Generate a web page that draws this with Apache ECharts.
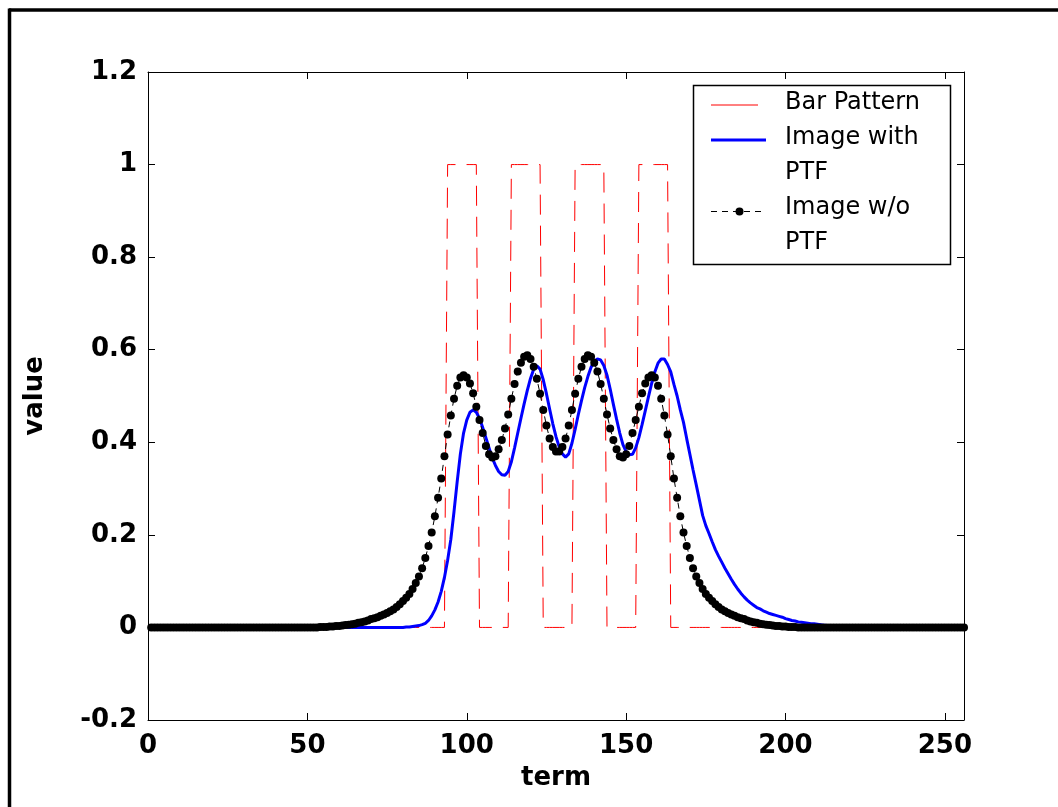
<!DOCTYPE html>
<html>
<head>
<meta charset="utf-8">
<script src="https://cdn.jsdelivr.net/npm/echarts@6/dist/echarts.min.js"></script>
<style>
html,body{margin:0;padding:0;background:#fff;}
#chart{width:1058px;height:807px;}
</style>
</head>
<body>
<div id="chart"></div>
<script>
// Series names
var seriesNames = ['Bar Pattern', 'Image with\nPTF', 'Image w/o\nPTF'];
var xTickValues = [0, 50, 100, 150, 200, 250];
var yTickLabels = ['-0.2', '0', '0.2', '0.4', '0.6', '0.8', '1', '1.2'];

// Bar pattern (term 1..256)
var barPattern = [
0,0,0,0,0,0,0,0,0,0,0,0,0,0,0,0,0,0,0,0,
0,0,0,0,0,0,0,0,0,0,0,0,0,0,0,0,0,0,0,0,
0,0,0,0,0,0,0,0,0,0,0,0,0,0,0,0,0,0,0,0,
0,0,0,0,0,0,0,0,0,0,0,0,0,0,0,0,0,0,0,0,
0,0,0,0,0,0,0,0,0,0,0,0,0,1,1,1,1,1,1,1,
1,1,1,0,0,0,0,0,0,0,0,0,0,1,1,1,1,1,1,1,
1,1,1,0,0,0,0,0,0,0,0,0,0,1,1,1,1,1,1,1,
1,1,1,0,0,0,0,0,0,0,0,0,0,1,1,1,1,1,1,1,
1,1,1,0,0,0,0,0,0,0,0,0,0,0,0,0,0,0,0,0,
0,0,0,0,0,0,0,0,0,0,0,0,0,0,0,0,0,0,0,0,
0,0,0,0,0,0,0,0,0,0,0,0,0,0,0,0,0,0,0,0,
0,0,0,0,0,0,0,0,0,0,0,0,0,0,0,0,0,0,0,0,
0,0,0,0,0,0,0,0,0,0,0,0,0,0,0,0
];

// Image with PTF (term 1..256)
var imageWithPTF = [
0,0,0,0,0,0,0,0,0,0,0,0,0,0,0,0,0,0,0,0,
0,0,0,0,0,0,0,0,0,0,0,0,0,0,0,0,0,0,0,0,
0,0,0,0,0,0,0,0,0,0,0,0,0,0,0,0,0,0,0,0,
0,0,0,0,0,0,0,0,0,0,0,0,0,0,0,0,0,0,0,0,
0.001,0.001,0.002,0.003,0.004,0.006,0.009,0.015,0.025,0.038,0.055,0.078,0.108,0.145,0.190,0.250,0.315,0.375,0.420,0.448,
0.465,0.470,0.465,0.452,0.432,0.410,0.388,0.366,0.350,0.337,0.330,0.329,0.337,0.358,0.388,0.420,0.452,0.483,0.512,0.538,
0.558,0.565,0.558,0.535,0.505,0.472,0.440,0.412,0.390,0.375,0.368,0.375,0.398,0.428,0.460,0.490,0.518,0.542,0.562,0.575,
0.580,0.578,0.566,0.545,0.515,0.482,0.450,0.420,0.395,0.380,0.373,0.374,0.388,0.410,0.438,0.468,0.498,0.527,0.552,0.571,
0.580,0.580,0.568,0.552,0.525,0.500,0.470,0.443,0.408,0.374,0.340,0.308,0.275,0.242,0.220,0.203,0.185,0.168,0.154,0.141,
0.128,0.116,0.104,0.093,0.083,0.074,0.066,0.059,0.053,0.048,0.043,0.040,0.036,0.033,0.030,0.028,0.026,0.024,0.022,0.019,
0.017,0.015,0.014,0.012,0.011,0.010,0.009,0.008,0.008,0.007,0.006,0.005,0.004,0,0,0,0,0,0,0,
0,0,0,0,0,0,0,0,0,0,0,0,0,0,0,0,0,0,0,0,
0,0,0,0,0,0,0,0,0,0,0,0,0,0,0,0
];

// Image w/o PTF (term 1..256)
var imageWithoutPTF = [
0,0,0,0,0,0,0,0,0,0,0,0,0,0,0,0,0,0,0,0,
0,0,0,0,0,0,0,0,0,0,0,0,0,0,0,0,0,0,0,0,
0,0,0,0,0,0,0,0,0,0,0,0,0,0.001,0.001,0.001,0.002,0.002,0.003,0.003,
0.004,0.005,0.006,0.007,0.008,0.010,0.011,0.013,0.015,0.018,0.020,0.022,0.025,0.028,0.031,0.035,0.039,0.044,0.050,0.057,
0.064,0.072,0.083,0.096,0.110,0.128,0.150,0.176,0.205,0.240,0.280,0.322,0.370,0.417,0.458,0.494,0.522,0.540,0.545,0.540,
0.527,0.506,0.477,0.448,0.420,0.392,0.374,0.367,0.370,0.385,0.405,0.430,0.460,0.494,0.526,0.553,0.572,0.585,0.588,0.580,
0.563,0.537,0.505,0.470,0.436,0.408,0.390,0.380,0.380,0.390,0.408,0.436,0.470,0.505,0.537,0.563,0.580,0.588,0.585,0.572,
0.553,0.526,0.494,0.460,0.430,0.405,0.385,0.370,0.367,0.374,0.392,0.420,0.448,0.477,0.506,0.527,0.540,0.545,0.540,0.522,
0.494,0.458,0.417,0.370,0.322,0.280,0.240,0.205,0.176,0.150,0.128,0.110,0.096,0.083,0.072,0.064,0.057,0.050,0.044,0.039,
0.035,0.031,0.028,0.025,0.022,0.020,0.018,0.015,0.013,0.011,0.010,0.008,0.007,0.006,0.005,0.004,0.003,0.003,0.002,0.002,
0.001,0.001,0.001,0,0,0,0,0,0,0,0,0,0,0,0,0,0,0,0,0,
0,0,0,0,0,0,0,0,0,0,0,0,0,0,0,0,0,0,0,0,
0,0,0,0,0,0,0,0,0,0,0,0,0,0,0,0
];

function pairs(arr) {
  var out = [];
  for (var i = 0; i < arr.length; i++) out.push([i + 1, arr[i]]);
  return out;
}

var FONT = 'DejaVu Sans';
var chart = echarts.init(document.getElementById('chart'), null, {renderer: 'canvas'});

var axisCommon = {
  axisLine: {show: true, onZero: false, lineStyle: {color: '#000', width: 1}},
  axisTick: {show: true, inside: true, length: 7, lineStyle: {color: '#000', width: 1}},
  splitLine: {show: false}
};

var option = {
  animation: false,
  backgroundColor: '#fff',
  grid: {left: 148, top: 72, width: 816, height: 648, containLabel: false},
  xAxis: [
    Object.assign({
      type: 'value', min: 0, max: 256, interval: 50, position: 'bottom',
      name: 'term', nameLocation: 'middle', nameGap: 45,
      nameTextStyle: {fontFamily: FONT, fontWeight: 'bold', fontSize: 26, color: '#000'},
      axisLabel: {show: true, margin: 13, fontFamily: FONT, fontWeight: 'bold', fontSize: 26, color: '#000',
        showMaxLabel: false,
        formatter: function (v) { return xTickValues.indexOf(v) >= 0 ? String(v) : ''; }}
    }, axisCommon),
    Object.assign({
      type: 'value', min: 0, max: 256, interval: 50, position: 'top',
      axisLabel: {show: false}
    }, axisCommon)
  ],
  yAxis: [
    Object.assign({
      type: 'value', min: -0.2, max: 1.2, interval: 0.2, position: 'left',
      name: 'value', nameLocation: 'middle', nameGap: 100,
      nameTextStyle: {fontFamily: FONT, fontWeight: 'bold', fontSize: 26, color: '#000'},
      axisLabel: {show: true, margin: 11, fontFamily: FONT, fontWeight: 'bold', fontSize: 26, color: '#000',
        formatter: function (v) {
          var idx = Math.round((v + 0.2) / 0.2);
          return yTickLabels[idx] !== undefined ? yTickLabels[idx] : '';
        }}
    }, axisCommon),
    Object.assign({
      type: 'value', min: -0.2, max: 1.2, interval: 0.2, position: 'right',
      axisLabel: {show: false}
    }, axisCommon)
  ],
  series: [
    {
      name: seriesNames[0], type: 'line', data: pairs(barPattern),
      xAxisIndex: 0, yAxisIndex: 0,
      showSymbol: false, symbol: 'none',
      lineStyle: {color: '#ff0000', width: 1, type: [20, 11]},
      z: 2
    },
    {
      name: seriesNames[1], type: 'line', data: pairs(imageWithPTF),
      xAxisIndex: 0, yAxisIndex: 0,
      showSymbol: false, symbol: 'none',
      lineStyle: {color: '#0000ff', width: 3},
      z: 3
    },
    {
      name: seriesNames[2], type: 'line', data: pairs(imageWithoutPTF),
      xAxisIndex: 0, yAxisIndex: 0,
      showSymbol: true, showAllSymbol: true, symbol: 'circle', symbolSize: 8,
      itemStyle: {color: '#000'},
      lineStyle: {color: '#000', width: 1, type: [6, 5]},
      z: 4
    }
  ],
  graphic: [
    // outer figure frame (top and left edges)
    {type: 'line', shape: {x1: 9, y1: 10, x2: 1058, y2: 10}, style: {stroke: '#000', lineWidth: 3.5}, z: 100},
    {type: 'line', shape: {x1: 9.5, y1: 8.5, x2: 9.5, y2: 807}, style: {stroke: '#000', lineWidth: 3.5}, z: 100},
    // legend box
    {type: 'rect', z: 100, shape: {x: 693.5, y: 85.5, width: 257, height: 179}, style: {fill: '#fff', stroke: '#000', lineWidth: 1.5}},
    {type: 'line', z: 101, shape: {x1: 711, y1: 105, x2: 758, y2: 105}, style: {stroke: '#ff0000', lineWidth: 1}},
    {type: 'line', z: 101, shape: {x1: 711, y1: 140, x2: 766, y2: 140}, style: {stroke: '#0000ff', lineWidth: 3}},
    {type: 'line', z: 101, shape: {x1: 711, y1: 211.5, x2: 766, y2: 211.5}, style: {stroke: '#000', lineWidth: 1, lineDash: [6, 5]}},
    {type: 'circle', z: 101, shape: {cx: 739.5, cy: 211.5, r: 4}, style: {fill: '#000'}},
    {type: 'text', z: 101, x: 785, y: 103, style: {text: 'Bar Pattern', font: '24px "DejaVu Sans"', fill: '#000', verticalAlign: 'middle', align: 'left'}},
    {type: 'text', z: 101, x: 785, y: 138, style: {text: 'Image with', font: '24px "DejaVu Sans"', fill: '#000', verticalAlign: 'middle', align: 'left'}},
    {type: 'text', z: 101, x: 785, y: 173, style: {text: 'PTF', font: '24px "DejaVu Sans"', fill: '#000', verticalAlign: 'middle', align: 'left'}},
    {type: 'text', z: 101, x: 785, y: 208, style: {text: 'Image w/o', font: '24px "DejaVu Sans"', fill: '#000', verticalAlign: 'middle', align: 'left'}},
    {type: 'text', z: 101, x: 785, y: 243, style: {text: 'PTF', font: '24px "DejaVu Sans"', fill: '#000', verticalAlign: 'middle', align: 'left'}}
  ]
};

chart.setOption(option);
</script>
</body>
</html>
